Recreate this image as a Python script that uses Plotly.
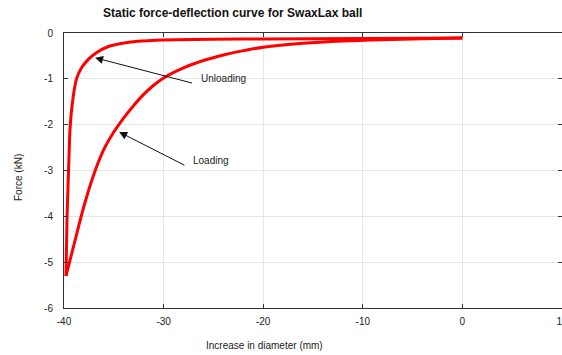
import plotly.graph_objects as go

# Data
loading_x = [0.0, -4.0, -8.0, -12.0, -16.0, -20.0, -22.0, -24.0, -26.0, -28.0,
             -30.0, -31.0, -32.0, -33.0, -34.0, -35.0, -36.0, -37.0, -38.0, -39.0, -39.8]
loading_y = [-0.11, -0.125, -0.145, -0.175, -0.225, -0.31, -0.385, -0.48, -0.60, -0.76,
             -0.98, -1.14, -1.34, -1.58, -1.85, -2.16, -2.54, -3.08, -3.78, -4.62, -5.30]

unloading_x = [-39.8, -39.7, -39.5, -39.4, -39.07, -38.74, -38.24, -37.58, -36.75,
               -35.6, -34.27, -32.6, -30.0, -25.0, -20.0, -10.0, 0.0]
unloading_y = [-5.3, -4.05, -2.72, -2.1, -1.38, -1.0, -0.76, -0.58, -0.43,
               -0.30, -0.23, -0.18, -0.15, -0.135, -0.13, -0.12, -0.11]

x_ticks = [-40, -30, -20, -10, 0, 10]
x_tick_labels = ["-40", "-30", "-20", "-10", "0", "10"]
y_ticks = [0, -1, -2, -3, -4, -5, -6]
y_tick_labels = ["0", "-1", "-2", "-3", "-4", "-5", "-6"]

title_text = "Static force-deflection curve for SwaxLax ball"
x_title = "Increase in diameter (mm)"
y_title = "Force (kN)"

FONT = "Liberation Sans, Arial, sans-serif"
RED = "#ff0000"

fig = go.Figure()
fig.add_trace(go.Scatter(x=loading_x, y=loading_y, mode="lines",
                         line=dict(color=RED, width=3, shape="spline", smoothing=1.0),
                         showlegend=False, hoverinfo="skip"))
fig.add_trace(go.Scatter(x=unloading_x, y=unloading_y, mode="lines",
                         line=dict(color=RED, width=3, shape="spline", smoothing=0.6),
                         showlegend=False, hoverinfo="skip"))

axis_common = dict(
    showline=True, linecolor="#333333", linewidth=1, mirror="allticks",
    ticks="inside", ticklen=4, tickcolor="#333333", tickwidth=1,
    showgrid=True, gridcolor="#e6e6e6", gridwidth=1, zeroline=False,
    tickfont=dict(family=FONT, size=10, color="#222222"),
    automargin=False, ticklabeloverflow="allow",
)

fig.update_layout(
    width=562, height=355,
    margin=dict(l=64, r=0, t=33, b=47),
    paper_bgcolor="white", plot_bgcolor="white",
    font=dict(family=FONT, size=10, color="#222222"),
    xaxis=dict(range=[-40, 10], tickvals=x_ticks, ticktext=x_tick_labels,
               ticklabelstandoff=4, **axis_common),
    yaxis=dict(range=[-6, 0], tickvals=y_ticks, ticktext=y_tick_labels,
               ticklabelstandoff=8, **axis_common),
    showlegend=False,
)

# Title and axis titles (positions relative to the plot area)
fig.add_annotation(text="<b>" + title_text + "</b>", xref="paper", yref="paper",
                   x=(232 - 64) / 498, y=1 + (33 - 13) / 275, showarrow=False,
                   xanchor="center", yanchor="middle",
                   font=dict(family=FONT, size=12, color="#111111"))
fig.add_annotation(text=x_title, xref="paper", yref="paper",
                   x=(264 - 64) / 498, y=-(345 - 308) / 275, showarrow=False,
                   xanchor="center", yanchor="middle",
                   font=dict(family=FONT, size=10, color="#222222"))
fig.add_annotation(text=y_title, xref="paper", yref="paper",
                   x=-(64 - 18) / 498, y=1 - (178 - 33) / 275, showarrow=False,
                   textangle=-90, xanchor="center", yanchor="middle",
                   font=dict(family=FONT, size=10, color="#222222"))

# Arrows
fig.add_annotation(x=-36.88, y=-0.54, ax=-27.0, ay=-1.10, xref="x", yref="y",
                   axref="x", ayref="y", text="", showarrow=True,
                   arrowhead=2, arrowsize=1.6, arrowwidth=1, arrowcolor="#111111")
fig.add_annotation(x=-34.46, y=-2.16, ax=-27.76, ay=-2.90, xref="x", yref="y",
                   axref="x", ayref="y", text="", showarrow=True,
                   arrowhead=2, arrowsize=1.6, arrowwidth=1, arrowcolor="#111111")
fig.add_annotation(x=-26.4, y=-0.99, xref="x", yref="y", text="Unloading",
                   showarrow=False, xanchor="left", yanchor="middle",
                   font=dict(family=FONT, size=10, color="#222222"))
fig.add_annotation(x=-27.2, y=-2.78, xref="x", yref="y", text="Loading",
                   showarrow=False, xanchor="left", yanchor="middle",
                   font=dict(family=FONT, size=10, color="#222222"))

# Remove the default page margin so the figure fills the window exactly.
fig.write_html(
    "out.html",
    config={"displayModeBar": False},
    post_script="document.body.style.margin='0';document.body.style.overflow='hidden';",
)
